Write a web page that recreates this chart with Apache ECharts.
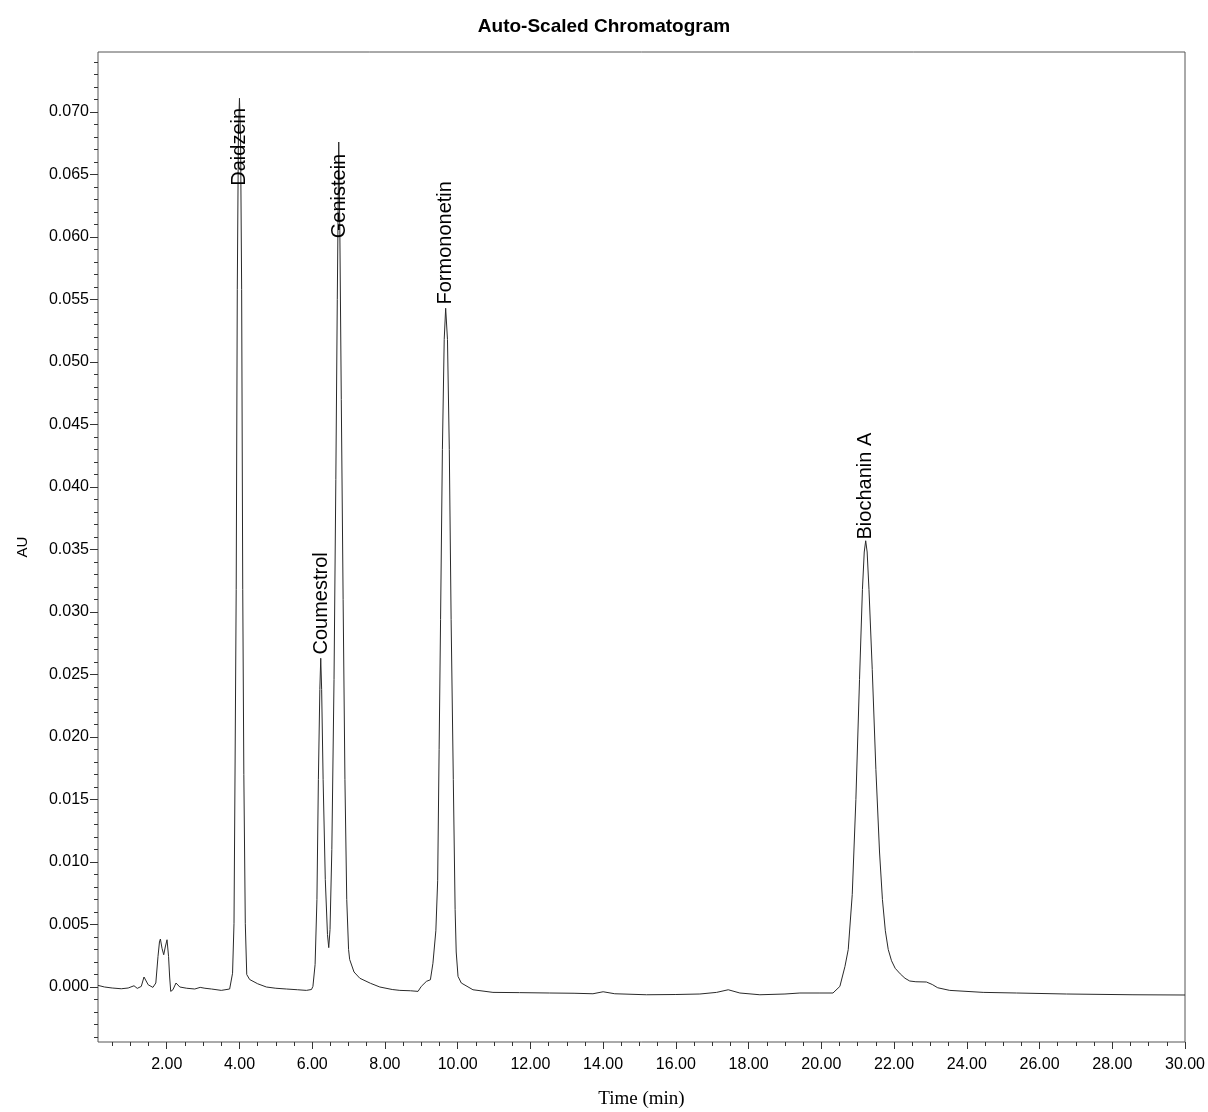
<!DOCTYPE html>
<html>
<head>
<meta charset="utf-8">
<script src="https://cdn.jsdelivr.net/npm/echarts@6/dist/echarts.min.js"></script>
<style>
html,body{margin:0;padding:0;background:#fff;}
#chart{width:1208px;height:1112px;}
</style>
</head>
<body>
<div id="chart"></div>
<script>
// Retention time (min)
const times = [0.11,0.16,0.29,0.50,0.75,0.94,1.10,1.19,1.30,1.375,1.49,1.62,1.70,1.76,1.80,1.826,1.87,1.917,1.96,2.008,2.05,2.08,2.11,2.17,2.255,2.36,2.55,2.77,2.92,3.05,3.23,3.50,3.73,
3.81,3.85,3.88,3.91,3.94,3.97,4.00,4.03,4.06,4.09,4.12,4.16,4.20,4.28,4.50,4.74,5.00,5.29,5.60,5.84,5.98,
6.02,6.08,6.13,6.17,6.21,6.235,6.26,6.30,6.36,6.42,6.455,6.49,6.54,6.60,6.65,6.69,6.73,6.76,6.80,6.85,6.90,6.95,7.00,7.03,7.15,7.31,7.60,7.86,8.20,8.41,8.70,8.91,
9.00,9.14,9.25,9.32,9.40,9.45,9.49,9.53,9.58,9.63,9.67,9.72,9.77,9.82,9.88,9.93,9.96,10.01,10.10,10.42,10.97,11.70,12.53,13.20,13.72,14.00,14.32,15.19,16.00,16.66,17.12,17.44,17.76,18.31,19.00,19.41,19.96,20.32,
20.51,20.65,20.74,20.85,20.95,21.05,21.13,21.18,21.22,21.26,21.31,21.40,21.50,21.60,21.68,21.76,21.84,21.93,22.03,22.17,22.30,22.43,22.60,22.89,23.05,23.20,23.53,24.45,25.37,26.74,28.57,30.00];
// Absorbance (AU)
const absorbance = [0.00013,0.00018,0.0,-0.00008,-0.00014,-0.00008,0.0001,-0.00011,0.00005,0.0008,0.00018,-0.00003,0.00032,0.00245,0.0036,0.00384,0.0031,0.00258,0.0032,0.00378,0.00245,0.0008,-0.00035,-0.00022,0.00032,0.0,-0.0001,-0.00016,-0.00003,-0.0001,-0.00016,-0.00027,-0.00016,
0.0011,0.0051,0.018,0.0318,0.0558,0.068,0.0711,0.068,0.0558,0.0318,0.017,0.0051,0.001,0.0006,0.00026,0.0,-0.0001,-0.00016,-0.00022,-0.00027,-0.0002,
0.00005,0.0018,0.007,0.0166,0.0238,0.0263,0.0238,0.0166,0.0086,0.0042,0.00315,0.0046,0.011,0.0246,0.0406,0.055,0.0676,0.0605,0.047,0.031,0.0166,0.007,0.003,0.0022,0.0012,0.0007,0.0003,0.0,-0.0002,-0.00027,-0.0003,-0.00035,
0.00005,0.00045,0.00058,0.0019,0.0045,0.0085,0.019,0.0294,0.043,0.0518,0.0543,0.0518,0.043,0.0294,0.0166,0.0062,0.0028,0.00085,0.00032,-0.00022,-0.00043,-0.00045,-0.00048,-0.0005,-0.00054,-0.00038,-0.00054,-0.00062,-0.0006,-0.00056,-0.00043,-0.00022,-0.00048,-0.00062,-0.00056,-0.00048,-0.00048,-0.00048,
0.00005,0.00165,0.003,0.0074,0.015,0.0246,0.0318,0.0348,0.0357,0.0348,0.0318,0.0254,0.0174,0.0108,0.0070,0.0045,0.0030,0.0021,0.0015,0.00105,0.0007,0.00048,0.00042,0.0004,0.0002,-0.00006,-0.00027,-0.00043,-0.00048,-0.00056,-0.00062,-0.00064];

// Peak labels
const peakNames = ["Daidzein","Coumestrol","Genistein","Formononetin","Biochanin A"];
const peakTimes = [4.01,6.25,6.745,9.67,21.22];
const labelHeights = [0.0641,0.0266,0.0599,0.0546,0.0358];

// Ticks
const xMajorTicks = [2,4,6,8,10,12,14,16,18,20,22,24,26,28,30];
const xMinorTicks = [0.5,1,1.5,2,2.5,3,3.5,4,4.5,5,5.5,6,6.5,7,7.5,8,8.5,9,9.5,10,10.5,11,11.5,12,12.5,13,13.5,14,14.5,15,15.5,16,16.5,17,17.5,18,18.5,19,19.5,20,20.5,21,21.5,22,22.5,23,23.5,24,24.5,25,25.5,26,26.5,27,27.5,28,28.5,29,29.5,30];
const yMajorTicks = [0,0.005,0.010,0.015,0.020,0.025,0.030,0.035,0.040,0.045,0.050,0.055,0.060,0.065,0.070];
const yMinorTicks = [-0.004,-0.003,-0.002,-0.001,0,0.001,0.002,0.003,0.004,0.005,0.006,0.007,0.008,0.009,0.010,0.011,0.012,0.013,0.014,0.015,0.016,0.017,0.018,0.019,0.020,0.021,0.022,0.023,0.024,0.025,0.026,0.027,0.028,0.029,0.030,0.031,0.032,0.033,0.034,0.035,0.036,0.037,0.038,0.039,0.040,0.041,0.042,0.043,0.044,0.045,0.046,0.047,0.048,0.049,0.050,0.051,0.052,0.053,0.054,0.055,0.056,0.057,0.058,0.059,0.060,0.061,0.062,0.063,0.064,0.065,0.066,0.067,0.068,0.069,0.070,0.071,0.072,0.073,0.074];

const X_MIN = 0.11, X_MAX = 30, Y_MIN = -0.0044, Y_MAX = 0.0748;

const lineData = times.map((t, i) => [t, absorbance[i]]);
const labelData = peakNames.map((n, i) => ({ value: [peakTimes[i], labelHeights[i]], name: n }));

const chart = echarts.init(document.getElementById('chart'), null, { renderer: 'canvas' });
const sans = 'Liberation Sans, Arial, sans-serif';
chart.setOption({
  animation: false,
  backgroundColor: '#ffffff',
  title: {
    text: 'Auto-Scaled Chromatogram',
    left: 'center',
    top: 12,
    textStyle: { fontFamily: sans, fontWeight: 'bold', fontSize: 19, color: '#000' }
  },
  grid: { left: 98, right: 23, top: 52, bottom: 70, show: true, borderColor: '#555', borderWidth: 1, backgroundColor: 'transparent', outerBoundsMode: 'none', containLabel: false },
  xAxis: [{
    type: 'value', min: X_MIN, max: X_MAX, position: 'bottom',
    axisLine: { show: false, onZero: false },
    splitLine: { show: false },
    axisTick: { show: true, customValues: xMajorTicks, length: 7, lineStyle: { color: '#333', width: 1 } },
    axisLabel: { customValues: xMajorTicks, formatter: v => v.toFixed(2), fontFamily: sans, fontSize: 16, color: '#000', margin: 15 },
    name: 'Time (min)', nameLocation: 'middle', nameGap: 48,
    nameTextStyle: { fontFamily: 'Liberation Serif, Times New Roman, serif', fontSize: 19, color: '#000' }
  }, {
    type: 'value', min: X_MIN, max: X_MAX, position: 'bottom',
    axisLine: { show: false, onZero: false }, splitLine: { show: false }, axisLabel: { show: false },
    axisTick: { show: true, customValues: xMinorTicks, length: 4, lineStyle: { color: '#333', width: 1 } }
  }],
  yAxis: [{
    type: 'value', min: Y_MIN, max: Y_MAX, position: 'left',
    axisLine: { show: false, onZero: false },
    splitLine: { show: false },
    axisTick: { show: true, customValues: yMajorTicks, length: 8, lineStyle: { color: '#333', width: 1 } },
    axisLabel: { customValues: yMajorTicks, formatter: v => v.toFixed(3), fontFamily: sans, fontSize: 16, color: '#000', margin: 9 },
    name: 'AU', nameLocation: 'middle', nameGap: 68, nameRotate: 90,
    nameTextStyle: { fontFamily: sans, fontSize: 15, color: '#000' }
  }, {
    type: 'value', min: Y_MIN, max: Y_MAX, position: 'left',
    axisLine: { show: false, onZero: false }, splitLine: { show: false }, axisLabel: { show: false },
    axisTick: { show: true, customValues: yMinorTicks, length: 4, lineStyle: { color: '#333', width: 1 } }
  }],
  series: [{
    type: 'line', xAxisIndex: 0, yAxisIndex: 0,
    data: lineData, showSymbol: false, symbol: 'none',
    lineStyle: { color: '#2a2a2a', width: 1 },
    silent: true
  }, {
    type: 'scatter', xAxisIndex: 0, yAxisIndex: 0,
    data: labelData, symbolSize: 0, silent: true, z: 5,
    itemStyle: { opacity: 1 },
    label: {
      show: true, formatter: p => p.name, position: 'inside', rotate: 90,
      align: 'left', verticalAlign: 'middle',
      fontFamily: sans, fontSize: 20, color: '#000', textBorderWidth: 0, opacity: 1
    }
  }]
});
</script>
</body>
</html>
